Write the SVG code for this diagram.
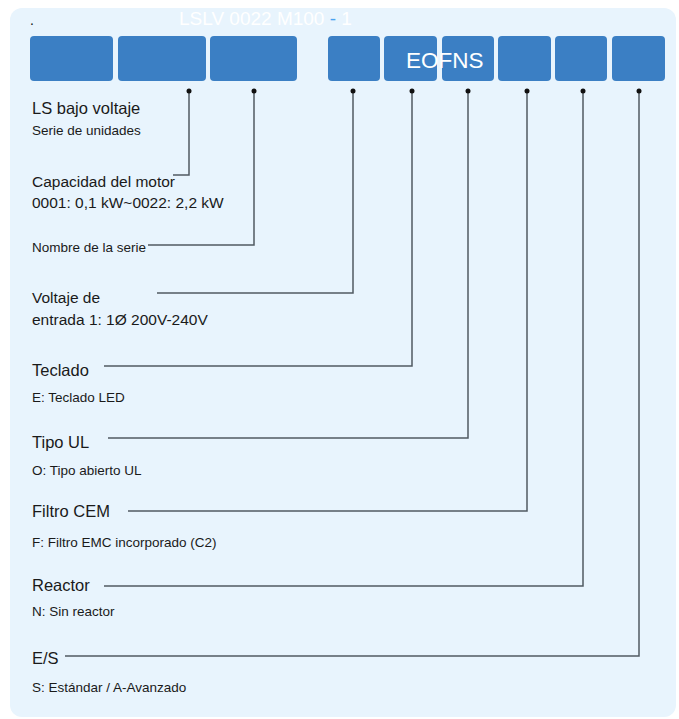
<svg xmlns="http://www.w3.org/2000/svg" width="679" height="719" viewBox="0 0 679 719">
<style>
.box{fill:#3b7fc4;}
.h{font-family:"Liberation Sans",Arial,sans-serif;font-size:16.5px;fill:#1a1a1a;}
.m{font-family:"Liberation Sans",Arial,sans-serif;font-size:15.5px;fill:#1a1a1a;}
.s{font-family:"Liberation Sans",Arial,sans-serif;font-size:13.5px;fill:#1a1a1a;}
.c{fill:none;stroke:#505a62;stroke-width:1.5;}
.d{fill:#111;}
</style>
<rect x="0" y="0" width="679" height="719" fill="#ffffff"/>
<rect x="10" y="8" width="666" height="709" rx="12" fill="#e8f4fd"/>
<text x="30" y="25" font-family="Liberation Sans,Arial,sans-serif" font-size="14" fill="#111">.</text>
<text x="179" y="25" font-family="Liberation Sans,Arial,sans-serif" font-size="19" fill="#ffffff">LSLV 0022 M100 <tspan fill="#4aa3f0">-</tspan> 1</text>
<g id="b1"><rect class="box" x="30" y="36" width="83" height="45" rx="4"/></g>
<g id="b2"><rect class="box" x="118" y="36" width="88" height="45" rx="4"/></g>
<g id="b3"><rect class="box" x="210" y="36" width="87" height="45" rx="4"/></g>
<g id="b4"><rect class="box" x="328" y="36" width="52" height="45" rx="4"/></g>
<g id="b5"><rect class="box" x="384" y="36" width="53" height="45" rx="4"/></g>
<g id="b6"><rect class="box" x="442" y="36" width="52" height="45" rx="4"/></g>
<g id="b7"><rect class="box" x="498" y="36" width="53" height="45" rx="4"/></g>
<g id="b8"><rect class="box" x="555" y="36" width="52" height="45" rx="4"/></g>
<g id="b9"><rect class="box" x="612" y="36" width="53" height="45" rx="4"/></g>
<text x="406" y="68" font-family="Liberation Sans,Arial,sans-serif" font-size="22.5" fill="#ffffff">EOFNS</text>
<g id="connectors">
<polyline class="c" points="189,91 189,175 173,175"/>
<polyline class="c" points="254,91 254,245 148,245"/>
<polyline class="c" points="353,91 353,293 157,293"/>
<polyline class="c" points="412,91 412,366 104,366"/>
<polyline class="c" points="468,91 468,438 108,438"/>
<polyline class="c" points="527,91 527,511 128,511"/>
<polyline class="c" points="583,91 583,586 104,586"/>
<polyline class="c" points="639,91 639,656 65,656"/>
<circle class="d" cx="189" cy="91" r="2.5"/>
<circle class="d" cx="254" cy="91" r="2.5"/>
<circle class="d" cx="353" cy="91" r="2.5"/>
<circle class="d" cx="412" cy="91" r="2.5"/>
<circle class="d" cx="468" cy="91" r="2.5"/>
<circle class="d" cx="527" cy="91" r="2.5"/>
<circle class="d" cx="583" cy="91" r="2.5"/>
<circle class="d" cx="639" cy="91" r="2.5"/>
</g>
<g id="series"><text class="h" x="32" y="114">LS bajo voltaje</text><text class="s" x="32" y="135">Serie de unidades</text></g>
<g id="capacidad"><text class="m" x="32" y="187">Capacidad del motor</text><text class="m" x="32" y="208">0001: 0,1 kW~0022: 2,2 kW</text></g>
<g id="nombre"><text class="s" x="32" y="252">Nombre de la serie</text></g>
<g id="voltaje"><text class="m" x="32" y="303">Voltaje de</text><text class="m" x="32" y="325">entrada 1: 1Ø 200V-240V</text></g>
<g id="teclado"><text class="h" x="32" y="376">Teclado</text><text class="s" x="32" y="402">E: Teclado LED</text></g>
<g id="tipo"><text class="h" x="32" y="448">Tipo UL</text><text class="s" x="32" y="475">O: Tipo abierto UL</text></g>
<g id="filtro"><text class="h" x="32" y="517">Filtro CEM</text><text class="s" x="32" y="547">F: Filtro EMC incorporado (C2)</text></g>
<g id="reactor"><text class="h" x="32" y="591">Reactor</text><text class="s" x="32" y="616">N: Sin reactor</text></g>
<g id="es"><text class="h" x="32" y="664">E/S</text><text class="s" x="32" y="692">S: Estándar / A-Avanzado</text></g>
</svg>
